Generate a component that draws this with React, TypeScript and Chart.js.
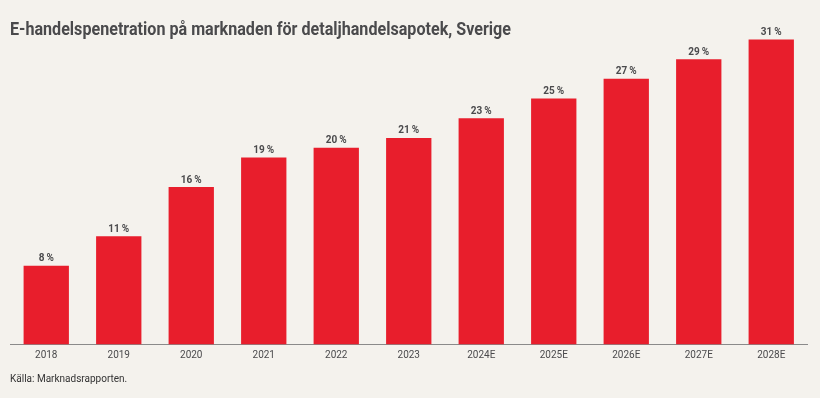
import React, { useEffect, useRef } from "react";
import { Chart, registerables } from "chart.js";

Chart.register(...registerables);

const TITLE = "E-handelspenetration på marknaden för detaljhandelsapotek, Sverige";
const SOURCE = "Källa: Marknadsrapporten.";
const categories = ["2018", "2019", "2020", "2021", "2022", "2023", "2024E", "2025E", "2026E", "2027E", "2028E"];
const values = [8, 11, 16, 19, 20, 21, 23, 25, 27, 29, 31];
const valueLabels = ["8\u2009%", "11\u2009%", "16\u2009%", "19\u2009%", "20\u2009%", "21\u2009%", "23\u2009%", "25\u2009%", "27\u2009%", "29\u2009%", "31\u2009%"];

const FONT = "'Roboto', sans-serif";
const BG = "#f4f2ed";
const BAR = "#e81e2c";
const TEXT = "#4a4a4c";

const valueLabelPlugin = {
  id: "valueLabels",
  afterDatasetsDraw(chart: any) {
    const ctx = chart.ctx;
    const meta = chart.getDatasetMeta(0);
    ctx.save();
    ctx.font = `bold 10px ${FONT}`;
    ctx.fillStyle = TEXT;
    ctx.textAlign = "center";
    ctx.textBaseline = "middle";
    meta.data.forEach((bar: any, i: number) => {
      ctx.fillText(valueLabels[i], bar.x, bar.y - 7);
    });
    ctx.restore();
  },
};

export default function App() {
  const ref = useRef<HTMLCanvasElement | null>(null);

  useEffect(() => {
    if (!ref.current) return;
    const chart = new Chart(ref.current, {
      type: "bar",
      data: {
        labels: categories,
        datasets: [
          {
            data: values,
            backgroundColor: BAR,
            borderWidth: 0,
            barPercentage: 0.625,
            categoryPercentage: 1,
          },
        ],
      },
      options: {
        responsive: false,
        animation: false,
        devicePixelRatio: 1,
        layout: { padding: { left: 10, right: 12.5, top: 10, bottom: 31.5 } },
        plugins: {
          legend: { display: false },
          tooltip: { enabled: false },
          title: { display: false },
        },
        scales: {
          x: {
            grid: { display: false, drawTicks: false },
            border: { display: true, color: "#8a8a8a", width: 1 },
            ticks: {
              color: TEXT,
              font: { family: FONT, size: 10 },
              padding: 5,
              maxRotation: 0,
              autoSkip: false,
            },
          },
          y: {
            display: false,
            min: 0,
            max: 34,
          },
        },
      },
      plugins: [valueLabelPlugin],
    });
    return () => chart.destroy();
  }, []);

  return (
    <div
      style={{
        position: "fixed",
        left: 0,
        top: 0,
        width: 820,
        height: 398,
        background: BG,
        overflow: "hidden",
      }}
    >
      <canvas ref={ref} width={820} height={398} style={{ position: "absolute", left: 0, top: 0 }} />
      <div
        style={{
          position: "absolute",
          left: 10,
          top: 20,
          fontFamily: FONT,
          fontWeight: 700,
          fontSize: 18,
          lineHeight: "18px",
          color: TEXT,
          whiteSpace: "nowrap",
          transform: "scaleX(0.895)",
          transformOrigin: "left center",
        }}
      >
        {TITLE}
      </div>
      <div
        style={{
          position: "absolute",
          left: 10,
          top: 373,
          fontFamily: FONT,
          fontSize: 10,
          lineHeight: "12px",
          color: "#333333",
          whiteSpace: "nowrap",
        }}
      >
        {SOURCE}
      </div>
    </div>
  );
}
